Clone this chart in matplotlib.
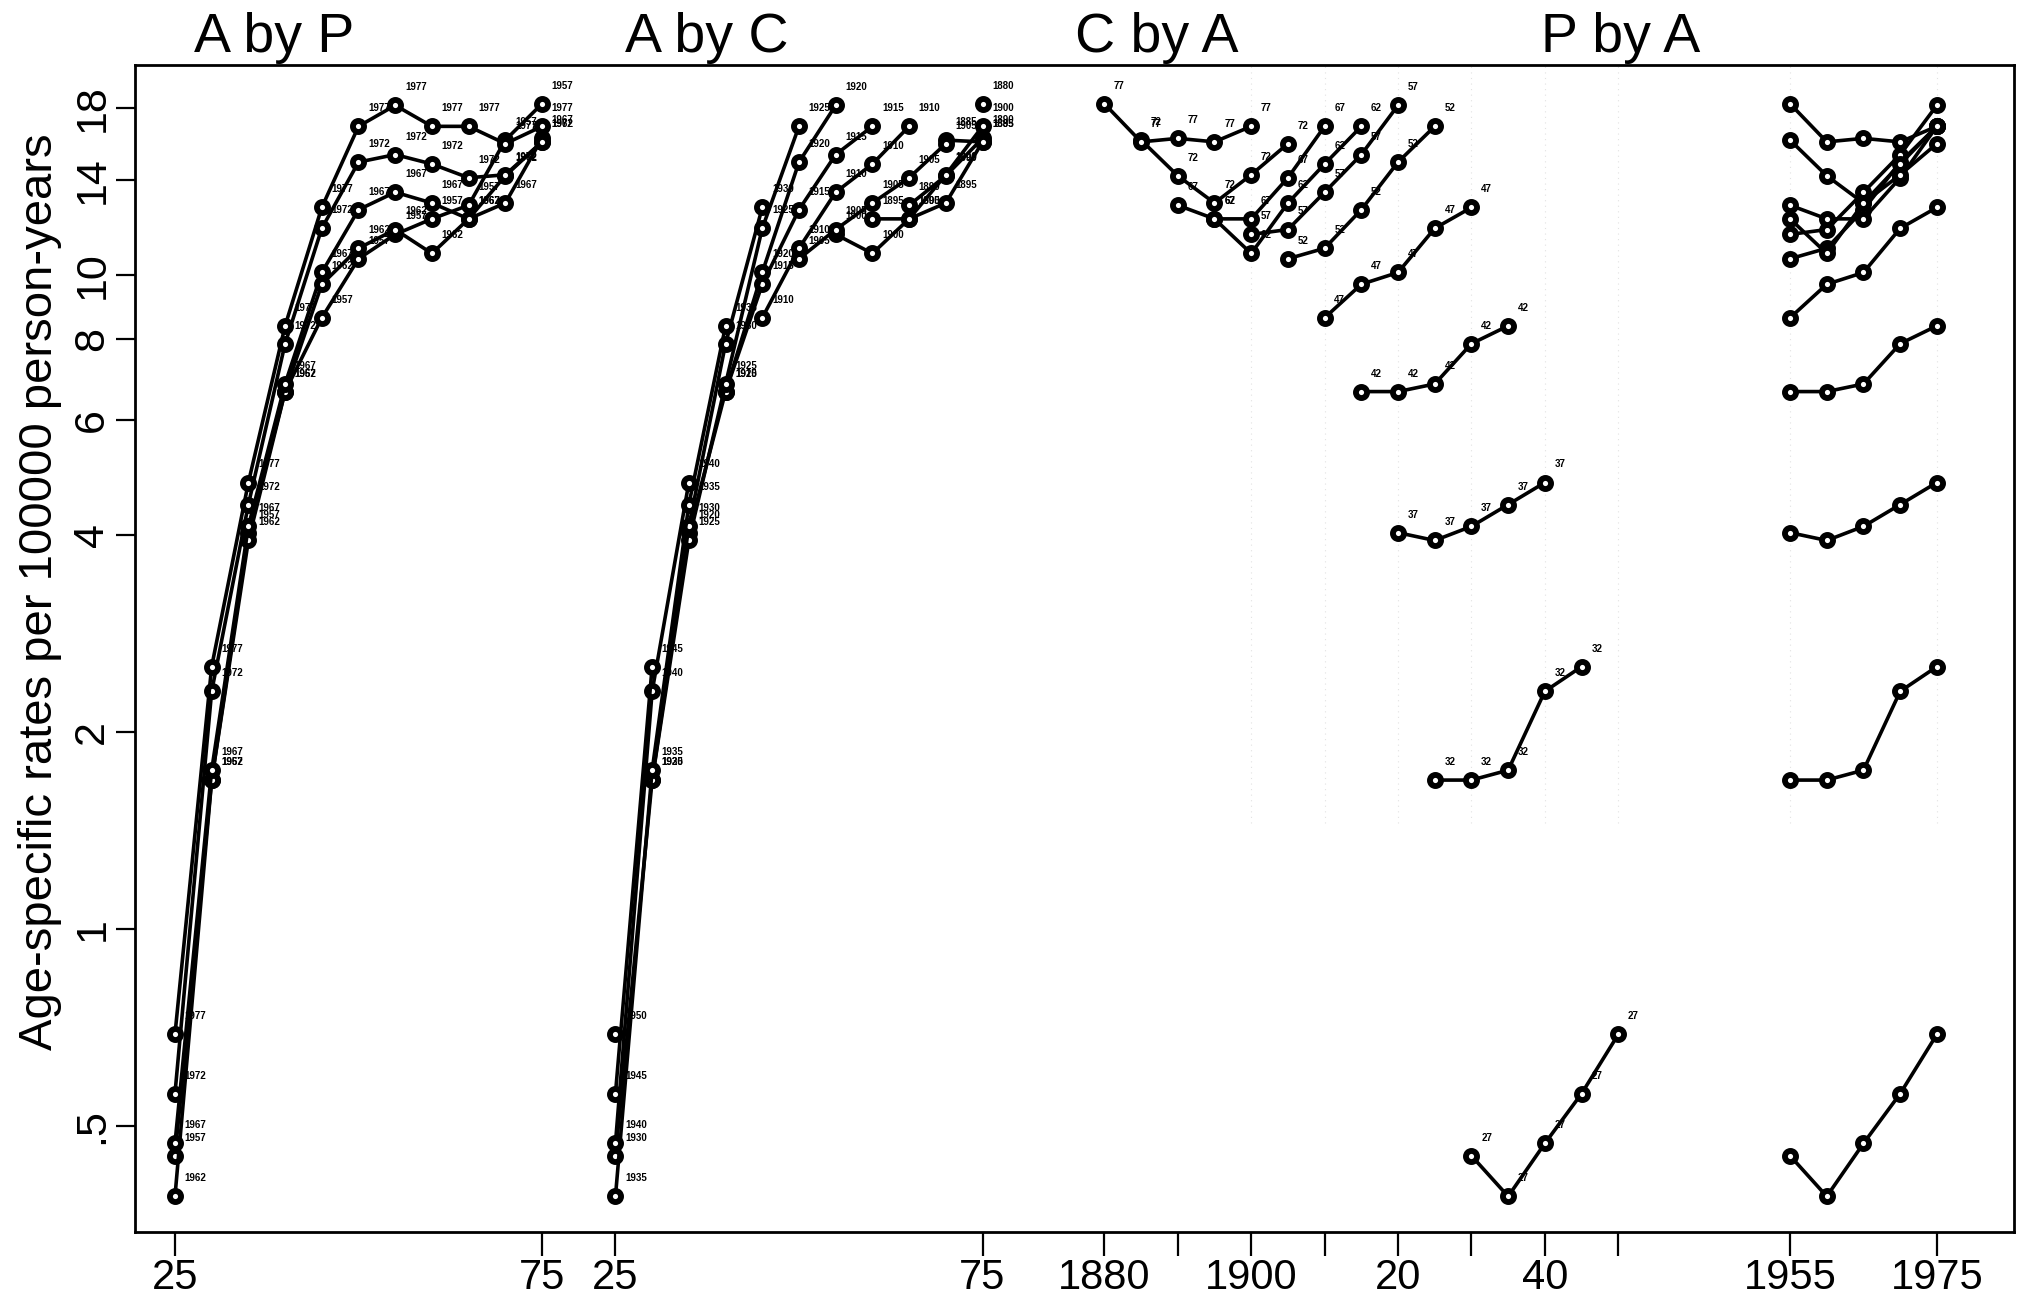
# %% imports

import numpy as np
import matplotlib
matplotlib.use("Agg")
import matplotlib.pyplot as plt
import matplotlib.transforms as mtransforms


# %% data (rates per 100000 person-years, rows = age group, cols = period)

ages = np.array([25, 30, 35, 40, 45, 50, 55, 60, 65, 70, 75])
periods = np.array([1955, 1960, 1965, 1970, 1975])

rates = np.array([[0.45, 0.39, 0.47, 0.56, 0.69],
                  [1.69, 1.69, 1.75, 2.31, 2.52],
                  [4.04, 3.93, 4.13, 4.46, 4.82],
                  [6.64, 6.64, 6.82, 7.86, 8.37],
                  [8.61, 9.69, 10.1, 11.8, 12.7],
                  [10.6, 11.0, 12.6, 14.9, 16.9],
                  [11.55, 11.75, 13.4, 15.3, 18.2],
                  [12.2, 10.8, 12.9, 14.8, 16.9],
                  [12.8, 12.2, 12.2, 14.1, 16.9],
                  [16.1, 14.2, 12.9, 14.25, 15.9],
                  [18.3, 16.0, 16.2, 16.0, 16.9]])

age_labels = ["27", "32", "37", "42", "47", "52", "57", "62", "67", "72", "77"]
period_labels = ["1957", "1962", "1967", "1972", "1977"]

y_ticks = [0.5, 1, 2, 4, 6, 8, 10, 14, 18]
y_ticklabels = [".5", "1", "2", "4", "6", "8", "10", "14", "18"]

panel_titles = ["A by P", "A by C", "C by A", "P by A"]


# %% layout of the four panels on one shared x axis

off_ap = 0.0
off_ac = 60.0
off_ca = 151.6 - 1880
off_pa = 245.0 - 1955
title_x = [27.6, 86.3, 147.6, 211.1]

xticks = [25 + off_ap, 75 + off_ap, 25 + off_ac, 75 + off_ac] + \
         [c + off_ca for c in range(1880, 1951, 10)] + [1955 + off_pa, 1975 + off_pa]
xticklabels = ["25", "75", "25", "75", "1880", "", "1900", "", "20", "", "40", "", "1955", "1975"]

plt.rcParams.update({"font.family": ["Liberation Sans", "DejaVu Sans"]})
narrow = ["Liberation Sans Narrow", "Liberation Sans", "DejaVu Sans"]

fig = plt.figure(figsize=(20.3, 13.04), dpi=100)
ax = fig.add_axes([0.0663, 0.0552, 0.9258, 0.8952])
ax.set_yscale("log")

line_kw = dict(color="black", linewidth=2.6, marker="o", markersize=8,
               markerfacecolor="white", markeredgecolor="black", markeredgewidth=4.2,
               solid_joinstyle="round")
lab_kw = dict(fontsize=7, fontweight="bold", ha="left", va="center",
              textcoords="offset points", xytext=(7, 13))


def point_labels(xs, ys, labels):
    for x, y, s in zip(xs, ys, labels):
        ax.annotate(s, (x, y), **lab_kw)


# faint dotted guide lines seen in the cohort / period panels
for c in range(1900, 1951, 10):
    ax.axvline(c + off_ca, ymin=0.35, color="#e2e2e2", linestyle=(0, (1, 4)), linewidth=0.8, zorder=0)
for p in [1955, 1975]:
    ax.axvline(p + off_pa, ymin=0.35, color="#e2e2e2", linestyle=(0, (1, 4)), linewidth=0.8, zorder=0)

# A by P: one curve per period
for j, p in enumerate(periods):
    ax.plot(ages + off_ap, rates[:, j], **line_kw)
    point_labels(ages + off_ap, rates[:, j], [period_labels[j]] * len(ages))

# A by C: one curve per cohort
cohorts = np.arange(periods.min() - ages.max(), periods.max() - ages.min() + 1, 5)
for c in cohorts:
    idx = [(i, j) for i in range(len(ages)) for j in range(len(periods)) if periods[j] - ages[i] == c]
    idx.sort()
    xs = np.array([ages[i] for i, j in idx]) + off_ac
    ys = np.array([rates[i, j] for i, j in idx])
    ax.plot(xs, ys, **line_kw)
    point_labels(xs, ys, [str(c)] * len(xs))

# C by A: one curve per age group
for i, a in enumerate(ages):
    xs = periods - a + off_ca
    ax.plot(xs, rates[i], **line_kw)
    point_labels(xs, rates[i], [age_labels[i]] * len(xs))

# P by A: one curve per age group
for i, a in enumerate(ages):
    ax.plot(periods + off_pa, rates[i], **line_kw)


# %% axes styling

ax.set_xlim(19.5, 275.5)
ax.set_ylim(0.344, 21.0)

ax.set_yticks(y_ticks)
ax.set_yticklabels(y_ticklabels, rotation=90, va="center", family=narrow, fontsize=31)
ax.yaxis.set_minor_locator(matplotlib.ticker.NullLocator())
ax.set_xticks(xticks)
ax.set_xticklabels(xticklabels, family=narrow, fontsize=30)
ax.tick_params(axis="y", which="major", length=14, width=1.6, direction="out", pad=2)
ax.tick_params(axis="x", which="major", length=17, width=1.6, direction="out", pad=2)

for sp in ax.spines.values():
    sp.set_linewidth(2.0)

trans = mtransforms.blended_transform_factory(ax.transData, ax.transAxes)
for tx, t in zip(title_x, panel_titles):
    ax.text(tx, 1.011, t, transform=trans, fontsize=40, ha="left", va="baseline")

fig.text(0.0195, 0.546, "Age-specific rates per 100000 person-years", rotation=90,
         ha="center", va="center", fontsize=34, family=narrow)

fig.savefig("out.png", dpi=100)
